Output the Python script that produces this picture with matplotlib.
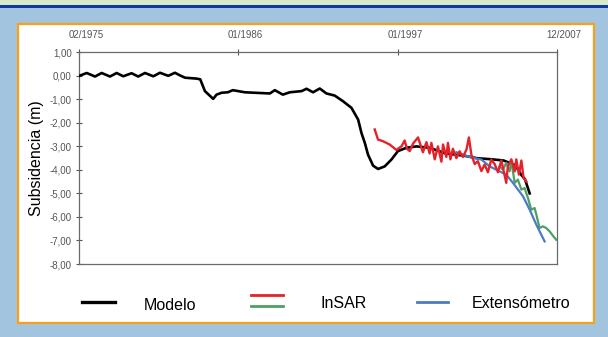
import matplotlib.pyplot as plt
from matplotlib.lines import Line2D
from matplotlib.patches import Rectangle
from matplotlib.transforms import ScaledTranslation

plt.rcParams["font.family"] = ["Liberation Sans", "DejaVu Sans"]

# Modelo (black)
model_years = [1975.08, 1975.59, 1976.16, 1976.62, 1977.19, 1977.65, 1978.10, 1978.68,
               1979.13, 1979.60, 1980.17, 1980.63, 1981.20, 1981.66, 1982.00, 1982.35,
               1983.17, 1983.40, 1983.72, 1984.29, 1984.52, 1984.87, 1985.30, 1985.64,
               1986.47, 1988.19, 1988.53, 1989.08, 1989.56, 1990.37, 1990.71, 1991.16,
               1991.62, 1992.08, 1992.65, 1993.22, 1993.80, 1994.26, 1994.49, 1994.72,
               1994.94, 1995.29, 1995.63, 1996.09, 1996.55, 1997.00, 1997.58, 1998.27,
               1999.18, 2000.28, 2001.59, 2002.41, 2003.47, 2004.27, 2005.07, 2005.47,
               2005.74, 2006.06]
model_vals = [0.00, 0.12, -0.03, 0.12, -0.03, 0.12, -0.02, 0.11,
              -0.03, 0.12, -0.02, 0.13, 0.00, 0.13, 0.02, -0.08,
              -0.12, -0.15, -0.65, -0.98, -0.80, -0.72, -0.70, -0.61,
              -0.70, -0.75, -0.61, -0.80, -0.70, -0.65, -0.55, -0.70,
              -0.54, -0.75, -0.84, -1.08, -1.36, -1.86, -2.43, -2.85,
              -3.35, -3.82, -3.96, -3.85, -3.56, -3.20, -3.06, -3.00,
              -3.06, -3.30, -3.40, -3.50, -3.55, -3.60, -3.80, -4.20,
              -4.40, -5.00]

# InSAR (red)
insar_years = [1995.40, 1995.63, 1995.97, 1996.43, 1996.89, 1997.24, 1997.46, 1997.62,
               1997.81, 1998.04, 1998.38, 1998.61, 1998.72, 1998.96, 1999.18, 1999.30,
               1999.53, 1999.75, 1999.99, 2000.10, 2000.33, 2000.44, 2000.61, 2000.78,
               2001.02, 2001.24, 2001.47, 2001.71, 2001.88, 2002.05, 2002.28, 2002.50,
               2002.74, 2002.96, 2003.19, 2003.42, 2003.65, 2003.88, 2004.11, 2004.22,
               2004.45, 2004.56, 2004.80, 2005.03, 2005.14, 2005.32, 2005.49, 2005.64,
               2005.83]
insar_vals = [-2.28, -2.71, -2.78, -2.92, -3.15, -3.00, -2.75, -3.10,
              -3.20, -2.88, -2.62, -3.05, -3.25, -2.82, -3.30, -2.85,
              -3.55, -3.00, -3.65, -2.92, -3.45, -2.85, -3.55, -3.10,
              -3.50, -3.21, -3.45, -3.14, -2.62, -3.35, -3.75, -3.63,
              -4.05, -3.77, -4.10, -3.56, -3.75, -4.10, -3.60, -3.90,
              -4.55, -3.85, -3.55, -4.06, -3.55, -4.20, -3.60, -4.34,
              -4.49]

# InSAR (green)
insar2_years = [2003.99, 2004.22, 2004.45, 2004.68, 2004.80, 2005.03, 2005.25, 2005.49,
                2005.71, 2005.94, 2006.17, 2006.40, 2006.52, 2006.74, 2006.97, 2007.20,
                2007.43, 2007.70, 2007.89]
insar2_vals = [-3.85, -3.99, -3.70, -4.06, -3.63, -4.55, -4.41, -4.84,
               -4.77, -5.19, -5.69, -5.62, -5.90, -6.47, -6.40, -6.47,
               -6.61, -6.83, -6.97]

# Extensometro (blue)
ext_years = [2001.02, 2001.93, 2002.74, 2003.31, 2003.99, 2004.45, 2004.91, 2005.60,
             2006.06, 2006.52, 2007.09]
ext_vals = [-3.25, -3.45, -3.56, -3.85, -4.06, -4.20, -4.55, -5.12,
            -5.69, -6.33, -7.04]

x_ticks = [1975.08, 1986.0, 1997.0, 2007.92]
x_labels = ["02/1975", "01/1986", "01/1997", "12/2007"]
y_ticks = [1, 0, -1, -2, -3, -4, -5, -6, -7, -8]

RED = "#e3222b"
GREEN = "#4f9f64"
BLUE = "#4a7cc4"
W, H = 608, 337


def fx(px):
    return px / W


def fy(py):
    return 1 - py / H


fig = plt.figure(figsize=(W / 100, H / 100), dpi=100, facecolor="#a3c4de")

# frame decoration
fig.patches.append(Rectangle((0, fy(4.5)), 1, 4.5 / H, transform=fig.transFigure,
                             facecolor="#d7ecc6", edgecolor="none", zorder=-2))
fig.patches.append(Rectangle((0, fy(8)), 1, 3.5 / H, transform=fig.transFigure,
                             facecolor="#0d3a9c", edgecolor="none", zorder=-2))
fig.patches.append(Rectangle((fx(17.7), fy(323.3)), (594.3 - 17.7) / W, (323.3 - 23.5) / H,
                             transform=fig.transFigure, facecolor="white",
                             edgecolor="#f9a01b", linewidth=1.6, zorder=-2))

ax = fig.add_axes([fx(79.3), fy(264), (556.7 - 79.3) / W, (264 - 52.3) / H])
ax.set_zorder(2)
ax.plot(model_years, model_vals, color="black", lw=1.9, zorder=3)
ax.plot(insar2_years, insar2_vals, color=GREEN, lw=1.6, zorder=4)
ax.plot(ext_years, ext_vals, color=BLUE, lw=1.6, zorder=5)
ax.plot(insar_years, insar_vals, color=RED, lw=1.7, zorder=6)

ax.set_xlim(x_ticks[0], x_ticks[-1])
ax.set_ylim(-8, 1)
ax.xaxis.tick_top()
ax.set_xticks(x_ticks)
ax.set_xticklabels(x_labels)
ax.set_yticks(y_ticks)
ax.set_yticklabels([f"{v:.2f}".replace(".", ",") for v in y_ticks])
ax.tick_params(axis="x", direction="inout", length=4, width=0.8, color="#555555",
               labelsize=7, labelcolor="#555555", pad=7)
ax.tick_params(axis="y", direction="inout", length=5, width=0.8, color="#555555",
               labelsize=7, labelcolor="#555555", pad=3)
for lab in ax.get_xticklabels():
    lab.set_transform(lab.get_transform() + ScaledTranslation(7 / 100, 0, fig.dpi_scale_trans))
for sp in ax.spines.values():
    sp.set_color("#6a6a6a")
    sp.set_linewidth(0.9)
ax.set_ylabel("Subsidencia (m)", fontsize=11.5, labelpad=4)

# legend
fig.add_artist(Line2D([fx(82), fx(115)], [fy(302), fy(302)], color="black", lw=2.4))
fig.add_artist(Line2D([fx(251), fx(283)], [fy(294.5), fy(294.5)], color=RED, lw=2.0))
fig.add_artist(Line2D([fx(251), fx(283)], [fy(306), fy(306)], color=GREEN, lw=2.0))
fig.add_artist(Line2D([fx(417), fx(448)], [fy(301.7), fy(301.7)], color=BLUE, lw=2.0))
fig.text(fx(143.5), fy(305), "Modelo", fontsize=11.5, va="center")
fig.text(fx(321), fy(303), "InSAR", fontsize=11.5, va="center")
fig.text(fx(472), fy(303), "Extensómetro", fontsize=11.5, va="center")

fig.savefig("out.png", dpi=100, facecolor=fig.get_facecolor())
plt.close(fig)
